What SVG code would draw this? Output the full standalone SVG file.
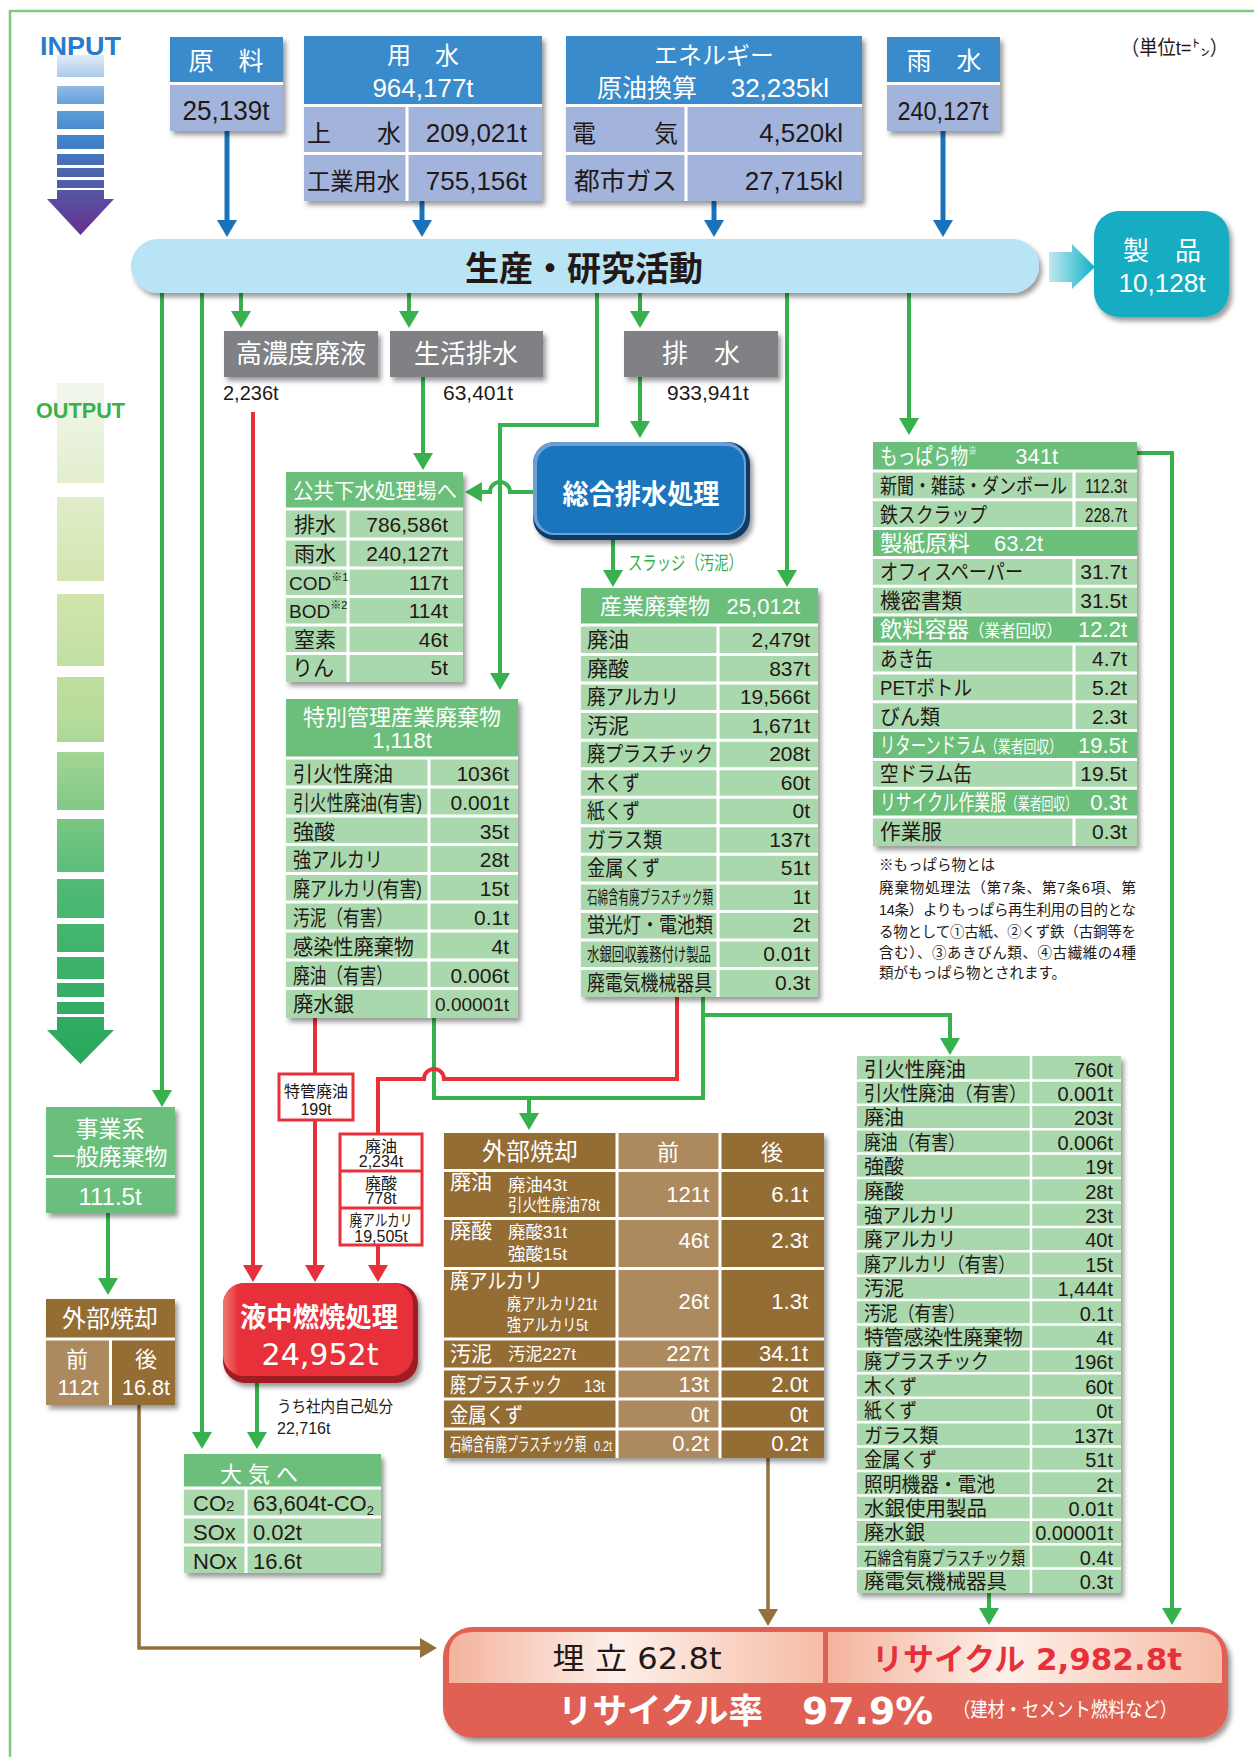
<svg xmlns="http://www.w3.org/2000/svg" width="1254" height="1757" viewBox="0 0 1254 1757">
<defs>
<style>
text{font-family:"Liberation Sans","Noto Sans CJK JP",sans-serif;}
.w{fill:#fff}
.k{fill:#231815}
.m{text-anchor:middle}
.e{text-anchor:end}
.gl{fill:none;stroke:#37b04e;stroke-width:4}
.rl{fill:none;stroke:#e8303a;stroke-width:4}
.bl{fill:none;stroke:#1a72bb;stroke-width:5}
.nl{fill:none;stroke:#94703a;stroke-width:3.5}
.hdB{fill:#3a8bcb}
.vB{fill:#a2b4dc}
.gH{fill:#6bbf7b}
.gR{fill:#aad8ad}
.br{fill:#946d35}
.brL{fill:#ad8a5e}
.gray{fill:#808184}
.sep{fill:none;stroke:#fff;stroke-width:3}
.sep2{fill:none;stroke:#fff;stroke-width:2.5}
.rb{fill:#fff;stroke:#e8303a;stroke-width:3}
.wd{font-family:"DejaVu Sans","Noto Sans CJK JP",sans-serif}
</style>
<linearGradient id="gin" x1="0" y1="55" x2="0" y2="235" gradientUnits="userSpaceOnUse">
<stop offset="0" stop-color="#e3ebf8"/><stop offset="0.25" stop-color="#6ea6dc"/><stop offset="0.45" stop-color="#3f86cc"/><stop offset="0.7" stop-color="#4f5fa8"/><stop offset="1" stop-color="#6a2f8f"/>
</linearGradient>
<linearGradient id="gout" x1="0" y1="383" x2="0" y2="1064" gradientUnits="userSpaceOnUse">
<stop offset="0" stop-color="#f2f7ec"/><stop offset="0.3" stop-color="#d2e5ad"/><stop offset="0.5" stop-color="#b5db9a"/><stop offset="0.75" stop-color="#4cb873"/><stop offset="1" stop-color="#27a85c"/>
</linearGradient>
<linearGradient id="gpa" x1="0" y1="0" x2="1" y2="0">
<stop offset="0" stop-color="#c2e8f0"/><stop offset="1" stop-color="#10b1c8"/>
</linearGradient>
<linearGradient id="gpk" x1="0" y1="0" x2="1" y2="0">
<stop offset="0" stop-color="#f4b39c"/><stop offset="0.45" stop-color="#fdf0ea"/><stop offset="1" stop-color="#f6bca6"/>
</linearGradient>
<linearGradient id="gred" x1="0" y1="0" x2="1" y2="0">
<stop offset="0" stop-color="#f07a72"/><stop offset="0.08" stop-color="#e8303a"/><stop offset="1" stop-color="#e8303a"/>
</linearGradient>
<filter id="sh" x="-10%" y="-10%" width="130%" height="135%"><feDropShadow dx="3" dy="4" stdDeviation="2.5" flood-color="#000" flood-opacity="0.4"/></filter>
<marker id="ag" viewBox="0 0 17 20" refX="7" refY="10" markerWidth="17" markerHeight="20" markerUnits="userSpaceOnUse" orient="auto"><path d="M0 0L17 10L0 20Z" fill="#37b04e"/></marker>
<marker id="ab" viewBox="0 0 17 20" refX="7" refY="10" markerWidth="17" markerHeight="20" markerUnits="userSpaceOnUse" orient="auto"><path d="M0 0L17 10L0 20Z" fill="#1a72bb"/></marker>
<marker id="ar" viewBox="0 0 17 20" refX="7" refY="10" markerWidth="17" markerHeight="20" markerUnits="userSpaceOnUse" orient="auto"><path d="M0 0L17 10L0 20Z" fill="#e8303a"/></marker>
<marker id="an" viewBox="0 0 17 20" refX="7" refY="10" markerWidth="17" markerHeight="20" markerUnits="userSpaceOnUse" orient="auto"><path d="M0 0L17 10L0 20Z" fill="#94703a"/></marker>
</defs>
<rect width="1254" height="1757" fill="#fff"/>
<path d="M10 1757V11H1254" fill="none" stroke="#7dcb83" stroke-width="2.5"/>

<g id="input-arrow">
<polygon points="57,55 104,55 104,199 114,199 80.5,235 47,199 57,199" fill="url(#gin)"/>
<g fill="#fff"><rect x="45" y="77" width="72" height="9"/><rect x="45" y="104" width="72" height="7"/><rect x="45" y="129" width="72" height="6"/><rect x="45" y="149" width="72" height="5"/><rect x="45" y="165" width="72" height="3"/><rect x="45" y="177" width="72" height="3"/><rect x="45" y="188" width="72" height="2"/></g>
<text x="40" y="55" font-size="25" font-weight="bold" fill="#2a7cc7" textLength="81" lengthAdjust="spacingAndGlyphs">INPUT</text>
</g>
<g id="output-arrow">
<polygon points="57,383 104,383 104,1030 114,1030 80.5,1064 47,1030 57,1030" fill="url(#gout)"/>
<g fill="#fff"><rect x="45" y="483" width="72" height="14"/><rect x="45" y="581" width="72" height="13"/><rect x="45" y="666" width="72" height="11"/><rect x="45" y="742" width="72" height="10"/><rect x="45" y="810" width="72" height="9"/><rect x="45" y="872" width="72" height="7"/><rect x="45" y="918" width="72" height="6"/><rect x="45" y="952" width="72" height="5"/><rect x="45" y="979" width="72" height="4"/><rect x="45" y="997" width="72" height="5"/><rect x="45" y="1014" width="72" height="3"/></g>
<text x="36" y="418" font-size="22" font-weight="bold" fill="#3cb04a" textLength="89" lengthAdjust="spacingAndGlyphs">OUTPUT</text>
</g>
<text id="unit" x="1121" y="55" font-size="20" class="k" textLength="107" lengthAdjust="spacingAndGlyphs">（単位t=㌧）</text>

<g id="connectors">
<path class="bl" marker-end="url(#ab)" d="M227 131V227"/>
<path class="bl" marker-end="url(#ab)" d="M422 201V227"/>
<path class="bl" marker-end="url(#ab)" d="M714 201V227"/>
<path class="bl" marker-end="url(#ab)" d="M943 131V227"/>
<path class="gl" marker-end="url(#ag)" d="M162 293V1097"/>
<path class="gl" marker-end="url(#ag)" d="M202 293V1439"/>
<path class="gl" marker-end="url(#ag)" d="M241 293V318"/>
<path class="gl" marker-end="url(#ag)" d="M409 293V318"/>
<path class="gl" marker-end="url(#ag)" d="M640 293V318"/>
<path class="gl" marker-end="url(#ag)" d="M597 293V425H500V680"/>
<path class="gl" marker-end="url(#ag)" d="M640 377V428"/>
<path class="gl" marker-end="url(#ag)" d="M787 293V577"/>
<path class="gl" marker-end="url(#ag)" d="M909 293V425"/>
<path class="gl" marker-end="url(#ag)" d="M423 377V460"/>
<path class="gl" marker-end="url(#ag)" d="M533 492H510A10 10 0 0 0 490 492H475"/>
<path class="gl" marker-end="url(#ag)" d="M613 540V577"/>
<path class="gl" marker-end="url(#ag)" d="M108 1213V1285"/>
<path class="gl" marker-end="url(#ag)" d="M257 1383V1439"/>
<path class="gl" d="M434 1018V1098H703V997"/>
<path class="gl" marker-end="url(#ag)" d="M703 1015H950V1045"/>
<path class="gl" marker-end="url(#ag)" d="M529 1098V1120"/>
<path class="gl" marker-end="url(#ag)" d="M989 1593V1615"/>
<path class="gl" marker-end="url(#ag)" d="M1137 453H1172V1615"/>
<path class="rl" marker-end="url(#ar)" d="M253 412V1272"/>
<path class="rl" d="M315 1018V1073"/>
<path class="rl" marker-end="url(#ar)" d="M315 1121V1272"/>
<path class="rl" d="M677 997V1079H444A10 10 0 0 0 424 1079H378V1133"/>
<path class="rl" marker-end="url(#ar)" d="M378 1246V1272"/>
<path class="nl" marker-end="url(#an)" d="M139 1405V1648H427"/>
<path class="nl" marker-end="url(#an)" d="M768 1458V1616"/>
<text x="628" y="570" font-size="19" fill="#37b04e" textLength="115" lengthAdjust="spacingAndGlyphs">スラッジ（汚泥）</text>
<text x="277" y="1412" font-size="16" class="k" textLength="116" lengthAdjust="spacingAndGlyphs">うち社内自己処分</text>
<text x="277" y="1434" font-size="16" class="k">22,716t</text>
</g>

<g id="n-genryo">
<rect x="170" y="37" width="113" height="94" class="vB" filter="url(#sh)"/>
<rect x="170" y="37" width="113" height="45" class="hdB"/>
<rect x="170" y="82" width="113" height="3" fill="#fff"/>
<text x="226" y="70" class="w m" font-size="25">原　料</text>
<text x="226" y="120" class="k m" font-size="27" textLength="87" lengthAdjust="spacingAndGlyphs">25,139t</text>
</g>
<g id="n-yousui">
<rect x="304" y="36" width="238" height="165" class="vB" filter="url(#sh)"/>
<rect x="304" y="36" width="238" height="68" class="hdB"/>
<path d="M304 105.5H542M304 153.5H542M407 105V201" class="sep"/>
<text x="423" y="64" class="w m" font-size="24">用　水</text>
<text x="423" y="97" class="w m" font-size="26">964,177t</text>
<text x="307" y="142" font-size="24" class="k">上</text>
<text x="401" y="142" font-size="24" class="k e">水</text>
<text x="527" y="142" class="k e" font-size="26">209,021t</text>
<text x="307" y="190" font-size="24" class="k" textLength="93" lengthAdjust="spacingAndGlyphs">工業用水</text>
<text x="527" y="190" class="k e" font-size="26">755,156t</text>
</g>
<g id="n-energy">
<rect x="566" y="36" width="296" height="165" class="vB" filter="url(#sh)"/>
<rect x="566" y="36" width="296" height="68" class="hdB"/>
<path d="M566 105.5H862M566 153.5H862M686 105V201" class="sep"/>
<text x="714" y="64" class="w m" font-size="24">エネルギー</text>
<text x="597" y="97" class="w" font-size="25">原油換算</text>
<text x="829" y="97" class="w e" font-size="26">32,235kl</text>
<text x="572" y="142" class="k" font-size="24">電</text>
<text x="678" y="142" class="k e" font-size="24">気</text>
<text x="843" y="142" class="k e" font-size="26">4,520kl</text>
<text x="574" y="190" class="k" font-size="25" textLength="103" lengthAdjust="spacingAndGlyphs">都市ガス</text>
<text x="843" y="190" class="k e" font-size="26">27,715kl</text>
</g>
<g id="n-usui">
<rect x="887" y="37" width="113" height="94" class="vB" filter="url(#sh)"/>
<rect x="887" y="37" width="113" height="45" class="hdB"/>
<rect x="887" y="82" width="113" height="3" fill="#fff"/>
<text x="944" y="70" class="w m" font-size="25">雨　水</text>
<text x="943" y="120" class="k m" font-size="26" textLength="91" lengthAdjust="spacingAndGlyphs">240,127t</text>
</g>

<g id="n-main">
<rect x="131" y="239" width="908" height="54" rx="27" fill="#b8e4f6" filter="url(#sh)"/>
<text x="584" y="281" class="k m" font-size="34" font-weight="bold" textLength="238" lengthAdjust="spacingAndGlyphs">生産・研究活動</text>
</g>
<g id="n-product">
<polygon points="1049,252 1072,252 1072,244 1095,267 1072,289 1072,282 1049,282" fill="url(#gpa)"/>
<rect x="1094" y="211" width="135" height="106" rx="25" fill="#14adc3" filter="url(#sh)"/>
<text x="1162" y="260" class="w m" font-size="26">製　品</text>
<text x="1162" y="292" class="w m" font-size="26" textLength="87" lengthAdjust="spacingAndGlyphs">10,128t</text>
</g>

<g id="n-kounoudo">
<rect x="224" y="331" width="154" height="46" class="gray" filter="url(#sh)"/>
<text x="301" y="363" class="w m" font-size="26">高濃度廃液</text>
<text x="223" y="400" class="k" font-size="20">2,236t</text>
</g>
<g id="n-seikatsu">
<rect x="390" y="331" width="153" height="46" class="gray" filter="url(#sh)"/>
<text x="466" y="363" class="w m" font-size="26">生活排水</text>
<text x="443" y="400" class="k" font-size="21">63,401t</text>
</g>
<g id="n-haisui">
<rect x="624" y="331" width="154" height="46" class="gray" filter="url(#sh)"/>
<text x="701" y="363" class="w m" font-size="26">排　水</text>
<text x="667" y="400" class="k" font-size="21">933,941t</text>
</g>

<g id="n-sougou">
<rect x="533" y="442" width="217" height="98" rx="22" fill="#0f3b68" filter="url(#sh)"/>
<rect x="533" y="442" width="213" height="93" rx="21" fill="#6d9fd4"/>
<rect x="537" y="446" width="207" height="87" rx="18" fill="#1b75bc"/>
<text x="641" y="504" class="w m" font-size="27" font-weight="bold" textLength="157" lengthAdjust="spacingAndGlyphs">総合排水処理</text>
</g>

<g id="n-koukyou">
<rect x="286" y="472" width="177" height="210" class="gR" filter="url(#sh)"/>
<rect x="286" y="472" width="177" height="36" class="gH"/>
<path d="M286 509H463M286 539H463M286 568H463M286 596.5H463M286 625H463M286 653.5H463M348 509V682" class="sep"/>
<text x="293" y="498" class="w" font-size="21" textLength="164" lengthAdjust="spacingAndGlyphs">公共下水処理場へ</text>
<text x="315" y="532" class="k m" font-size="21">排水</text><text x="448" y="532" class="k e" font-size="21">786,586t</text>
<text x="315" y="561" class="k m" font-size="21">雨水</text><text x="448" y="561" class="k e" font-size="21">240,127t</text>
<text x="289" y="590" class="k" font-size="19">COD<tspan font-size="11" dy="-9">※1</tspan></text><text x="448" y="590" class="k e" font-size="21">117t</text>
<text x="289" y="618" class="k" font-size="19">BOD<tspan font-size="11" dy="-9">※2</tspan></text><text x="448" y="618" class="k e" font-size="21">114t</text>
<text x="315" y="647" class="k m" font-size="21">窒素</text><text x="448" y="647" class="k e" font-size="21">46t</text>
<text x="313" y="675" class="k m" font-size="21">りん</text><text x="448" y="675" class="k e" font-size="21">5t</text>
</g>

<g id="n-tokkan">
<rect x="286" y="699" width="232" height="319" class="gR" filter="url(#sh)"/>
<rect x="286" y="699" width="232" height="58" class="gH"/>
<path d="M286 758H518M286 787H518M286 816H518M286 844.5H518M286 873.5H518M286 902H518M286 931H518M286 960H518M286 988.5H518M429 758V1018" class="sep"/>
<text x="402" y="725" class="w m" font-size="22">特別管理産業廃棄物</text>
<text x="402" y="748" class="w m" font-size="22">1,118t</text>
<text x="293" y="781" class="k" font-size="21" textLength="100" lengthAdjust="spacingAndGlyphs">引火性廃油</text><text x="509" y="781" class="k e" font-size="21">1036t</text>
<text x="293" y="810" class="k" font-size="21" textLength="129" lengthAdjust="spacingAndGlyphs">引火性廃油(有害)</text><text x="509" y="810" class="k e" font-size="21">0.001t</text>
<text x="293" y="839" class="k" font-size="21">強酸</text><text x="509" y="839" class="k e" font-size="21">35t</text>
<text x="293" y="867" class="k" font-size="21" textLength="90" lengthAdjust="spacingAndGlyphs">強アルカリ</text><text x="509" y="867" class="k e" font-size="21">28t</text>
<text x="293" y="896" class="k" font-size="21" textLength="129" lengthAdjust="spacingAndGlyphs">廃アルカリ(有害)</text><text x="509" y="896" class="k e" font-size="21">15t</text>
<text x="293" y="925" class="k" font-size="21" textLength="100" lengthAdjust="spacingAndGlyphs">汚泥（有害）</text><text x="509" y="925" class="k e" font-size="21">0.1t</text>
<text x="293" y="954" class="k" font-size="21" textLength="121" lengthAdjust="spacingAndGlyphs">感染性廃棄物</text><text x="509" y="954" class="k e" font-size="21">4t</text>
<text x="293" y="983" class="k" font-size="21" textLength="100" lengthAdjust="spacingAndGlyphs">廃油（有害）</text><text x="509" y="983" class="k e" font-size="21">0.006t</text>
<text x="293" y="1011" class="k" font-size="21" textLength="61" lengthAdjust="spacingAndGlyphs">廃水銀</text><text x="509" y="1011" class="k e" font-size="19">0.00001t</text>
</g>

<g id="n-sangyou">
<rect x="581" y="588" width="237" height="409" class="gR" filter="url(#sh)"/>
<rect x="581" y="588" width="237" height="36" class="gH"/>
<path d="M581 625H818M581 654.5H818M581 683.1H818M581 711.6H818M581 740.2H818M581 768.7H818M581 797.2H818M581 825.8H818M581 854.3H818M581 882.9H818M581 911.4H818M581 939.9H818M581 968.5H818M718 625V997" class="sep"/>
<text x="600" y="614" class="w" font-size="22">産業廃棄物</text><text x="800" y="614" class="w e" font-size="22">25,012t</text>
<text x="587" y="647" class="k" font-size="21">廃油</text><text x="810" y="647" class="k e" font-size="21">2,479t</text>
<text x="587" y="675.5" class="k" font-size="21">廃酸</text><text x="810" y="675.5" class="k e" font-size="21">837t</text>
<text x="587" y="704" class="k" font-size="21" textLength="92" lengthAdjust="spacingAndGlyphs">廃アルカリ</text><text x="810" y="704" class="k e" font-size="21">19,566t</text>
<text x="587" y="732.6" class="k" font-size="21">汚泥</text><text x="810" y="732.6" class="k e" font-size="21">1,671t</text>
<text x="587" y="761" class="k" font-size="21" textLength="126" lengthAdjust="spacingAndGlyphs">廃プラスチック</text><text x="810" y="761" class="k e" font-size="21">208t</text>
<text x="587" y="789.7" class="k" font-size="21" textLength="53" lengthAdjust="spacingAndGlyphs">木くず</text><text x="810" y="789.7" class="k e" font-size="21">60t</text>
<text x="587" y="818.2" class="k" font-size="21" textLength="53" lengthAdjust="spacingAndGlyphs">紙くず</text><text x="810" y="818.2" class="k e" font-size="21">0t</text>
<text x="587" y="846.8" class="k" font-size="21" textLength="75" lengthAdjust="spacingAndGlyphs">ガラス類</text><text x="810" y="846.8" class="k e" font-size="21">137t</text>
<text x="587" y="875.3" class="k" font-size="21" textLength="73" lengthAdjust="spacingAndGlyphs">金属くず</text><text x="810" y="875.3" class="k e" font-size="21">51t</text>
<text x="587" y="903.9" class="k" font-size="18" textLength="126" lengthAdjust="spacingAndGlyphs">石綿含有廃プラスチック類</text><text x="810" y="903.9" class="k e" font-size="21">1t</text>
<text x="587" y="932.4" class="k" font-size="21" textLength="126" lengthAdjust="spacingAndGlyphs">蛍光灯・電池類</text><text x="810" y="932.4" class="k e" font-size="21">2t</text>
<text x="587" y="961" class="k" font-size="18" textLength="124" lengthAdjust="spacingAndGlyphs">水銀回収義務付け製品</text><text x="810" y="961" class="k e" font-size="21">0.01t</text>
<text x="587" y="989.5" class="k" font-size="21" textLength="125" lengthAdjust="spacingAndGlyphs">廃電気機械器具</text><text x="810" y="989.5" class="k e" font-size="21">0.3t</text>
</g>

<g id="n-moppara">
<rect x="873" y="442" width="264" height="404" class="gR" filter="url(#sh)"/>
<g class="gH"><rect x="873" y="442" width="264" height="28.9"/><rect x="873" y="528.6" width="264" height="28.8"/><rect x="873" y="615.1" width="264" height="28.9"/><rect x="873" y="730.6" width="264" height="28.8"/><rect x="873" y="788.3" width="264" height="28.8"/></g>
<path d="M873 470.9H1137M873 499.7H1137M873 528.6H1137M873 557.4H1137M873 586.3H1137M873 615.1H1137M873 644H1137M873 672.9H1137M873 701.7H1137M873 730.6H1137M873 759.4H1137M873 788.3H1137M873 817.1H1137M1074 470.9V528.6M1074 557.4V615.1M1074 644V730.6M1074 759.4V788.3M1074 817.1V846" class="sep"/>
<text x="880" y="464" class="w" font-size="22" textLength="97" lengthAdjust="spacingAndGlyphs">もっぱら物<tspan font-size="11" dy="-9">※</tspan></text><text x="1058" y="464" class="w e" font-size="22">341t</text>
<text x="880" y="492.9" class="k" font-size="21" textLength="187" lengthAdjust="spacingAndGlyphs">新聞・雑誌・ダンボール</text><text x="1127" y="492.9" class="k e" font-size="20" textLength="42" lengthAdjust="spacingAndGlyphs">112.3t</text>
<text x="880" y="521.7" class="k" font-size="21" textLength="107" lengthAdjust="spacingAndGlyphs">鉄スクラップ</text><text x="1127" y="521.7" class="k e" font-size="20" textLength="42" lengthAdjust="spacingAndGlyphs">228.7t</text>
<text x="880" y="550.6" class="w" font-size="22" textLength="90" lengthAdjust="spacingAndGlyphs">製紙原料</text><text x="1043" y="550.6" class="w e" font-size="22">63.2t</text>
<text x="880" y="579.4" class="k" font-size="21" textLength="143" lengthAdjust="spacingAndGlyphs">オフィスペーパー</text><text x="1127" y="579.4" class="k e" font-size="21">31.7t</text>
<text x="880" y="608.3" class="k" font-size="21" textLength="82" lengthAdjust="spacingAndGlyphs">機密書類</text><text x="1127" y="608.3" class="k e" font-size="21">31.5t</text>
<text x="880" y="637.1" class="w" font-size="22" textLength="89" lengthAdjust="spacingAndGlyphs">飲料容器</text><text x="969" y="637.1" class="w" font-size="17" textLength="93" lengthAdjust="spacingAndGlyphs">（業者回収）</text><text x="1127" y="637.1" class="w e" font-size="22">12.2t</text>
<text x="880" y="666" class="k" font-size="21" textLength="53" lengthAdjust="spacingAndGlyphs">あき缶</text><text x="1127" y="666" class="k e" font-size="21">4.7t</text>
<text x="880" y="694.9" class="k" font-size="21" textLength="92" lengthAdjust="spacingAndGlyphs">PETボトル</text><text x="1127" y="694.9" class="k e" font-size="21">5.2t</text>
<text x="880" y="723.7" class="k" font-size="21" textLength="60" lengthAdjust="spacingAndGlyphs">びん類</text><text x="1127" y="723.7" class="k e" font-size="21">2.3t</text>
<text x="880" y="752.6" class="w" font-size="22" textLength="106" lengthAdjust="spacingAndGlyphs">リターンドラム</text><text x="985" y="752.6" class="w" font-size="17" textLength="77" lengthAdjust="spacingAndGlyphs">（業者回収）</text><text x="1127" y="752.6" class="w e" font-size="22">19.5t</text>
<text x="880" y="781.4" class="k" font-size="21" textLength="92" lengthAdjust="spacingAndGlyphs">空ドラム缶</text><text x="1127" y="781.4" class="k e" font-size="21">19.5t</text>
<text x="880" y="810.3" class="w" font-size="22" textLength="126" lengthAdjust="spacingAndGlyphs">リサイクル作業服</text><text x="1006" y="810.3" class="w" font-size="17" textLength="71" lengthAdjust="spacingAndGlyphs">（業者回収）</text><text x="1127" y="810.3" class="w e" font-size="22">0.3t</text>
<text x="880" y="839.1" class="k" font-size="21" textLength="62" lengthAdjust="spacingAndGlyphs">作業服</text><text x="1127" y="839.1" class="k e" font-size="21">0.3t</text>
</g>

<g id="footnote" class="k" font-size="14.5">
<text x="879" y="870">※もっぱら物とは</text>
<text x="879" y="893" textLength="257" lengthAdjust="spacing">廃棄物処理法（第7条、第7条6項、第</text>
<text x="879" y="915" textLength="257" lengthAdjust="spacing">14条）よりもっぱら再生利用の目的とな</text>
<text x="879" y="937" textLength="257" lengthAdjust="spacing">る物として①古紙、②くず鉄（古銅等を</text>
<text x="879" y="958" textLength="257" lengthAdjust="spacing">含む）、③あきびん類、④古繊維の4種</text>
<text x="879" y="978">類がもっぱら物とされます。</text>
</g>

<g id="n-recycle-list">
<rect x="857" y="1056" width="264" height="537" class="gR" filter="url(#sh)"/>
<path d="M857 1080.4H1121M857 1104.8H1121M857 1129.2H1121M857 1153.6H1121M857 1178.1H1121M857 1202.5H1121M857 1226.9H1121M857 1251.3H1121M857 1275.7H1121M857 1300.1H1121M857 1324.5H1121M857 1348.9H1121M857 1373.3H1121M857 1397.7H1121M857 1422.2H1121M857 1446.6H1121M857 1471H1121M857 1495.4H1121M857 1519.8H1121M857 1544.2H1121M857 1568.6H1121M1031 1056V1593" class="sep2"/>
<g class="k" font-size="20">
<text x="864" y="1076.5" textLength="102" lengthAdjust="spacingAndGlyphs">引火性廃油</text><text x="1113" y="1076.5" class="e">760t</text>
<text x="864" y="1100.9" textLength="163" lengthAdjust="spacingAndGlyphs">引火性廃油（有害）</text><text x="1113" y="1100.9" class="e">0.001t</text>
<text x="864" y="1125.3">廃油</text><text x="1113" y="1125.3" class="e">203t</text>
<text x="864" y="1149.7" textLength="101" lengthAdjust="spacingAndGlyphs">廃油（有害）</text><text x="1113" y="1149.7" class="e">0.006t</text>
<text x="864" y="1174.1">強酸</text><text x="1113" y="1174.1" class="e">19t</text>
<text x="864" y="1198.6">廃酸</text><text x="1113" y="1198.6" class="e">28t</text>
<text x="864" y="1223" textLength="92" lengthAdjust="spacingAndGlyphs">強アルカリ</text><text x="1113" y="1223" class="e">23t</text>
<text x="864" y="1247.4" textLength="92" lengthAdjust="spacingAndGlyphs">廃アルカリ</text><text x="1113" y="1247.4" class="e">40t</text>
<text x="864" y="1271.8" textLength="151" lengthAdjust="spacingAndGlyphs">廃アルカリ（有害）</text><text x="1113" y="1271.8" class="e">15t</text>
<text x="864" y="1296.2">汚泥</text><text x="1113" y="1296.2" class="e">1,444t</text>
<text x="864" y="1320.6" textLength="101" lengthAdjust="spacingAndGlyphs">汚泥（有害）</text><text x="1113" y="1320.6" class="e">0.1t</text>
<text x="864" y="1345" textLength="159" lengthAdjust="spacingAndGlyphs">特管感染性廃棄物</text><text x="1113" y="1345" class="e">4t</text>
<text x="864" y="1369.4" textLength="125" lengthAdjust="spacingAndGlyphs">廃プラスチック</text><text x="1113" y="1369.4" class="e">196t</text>
<text x="864" y="1393.8" textLength="53" lengthAdjust="spacingAndGlyphs">木くず</text><text x="1113" y="1393.8" class="e">60t</text>
<text x="864" y="1418.2" textLength="53" lengthAdjust="spacingAndGlyphs">紙くず</text><text x="1113" y="1418.2" class="e">0t</text>
<text x="864" y="1442.7" textLength="74" lengthAdjust="spacingAndGlyphs">ガラス類</text><text x="1113" y="1442.7" class="e">137t</text>
<text x="864" y="1467.1" textLength="73" lengthAdjust="spacingAndGlyphs">金属くず</text><text x="1113" y="1467.1" class="e">51t</text>
<text x="864" y="1491.5" textLength="131" lengthAdjust="spacingAndGlyphs">照明機器・電池</text><text x="1113" y="1491.5" class="e">2t</text>
<text x="864" y="1515.9" textLength="123" lengthAdjust="spacingAndGlyphs">水銀使用製品</text><text x="1113" y="1515.9" class="e">0.01t</text>
<text x="864" y="1540.3" textLength="61" lengthAdjust="spacingAndGlyphs">廃水銀</text><text x="1113" y="1540.3" class="e">0.00001t</text>
<text x="864" y="1564.7" font-size="18" textLength="161" lengthAdjust="spacingAndGlyphs">石綿含有廃プラスチック類</text><text x="1113" y="1564.7" class="e">0.4t</text>
<text x="864" y="1589.1" textLength="143" lengthAdjust="spacingAndGlyphs">廃電気機械器具</text><text x="1113" y="1589.1" class="e">0.3t</text>
</g>
</g>

<g id="n-gaibu">
<rect x="444" y="1133" width="380" height="325" class="br" filter="url(#sh)"/>
<rect x="617" y="1133" width="103" height="325" class="brL"/>
<path d="M444 1170.5H824M444 1218.5H824M444 1268.5H824M444 1339H824M444 1369H824M444 1399H824M444 1429H824M617 1133V1458M720 1133V1458" class="sep"/>
<g class="w">
<text x="530" y="1160" class="m" font-size="24">外部焼却</text>
<text x="668" y="1160" class="m" font-size="22">前</text>
<text x="772" y="1160" class="m" font-size="22">後</text>
<text x="450" y="1189" font-size="21">廃油</text>
<text x="508" y="1191" font-size="17" textLength="59" lengthAdjust="spacingAndGlyphs">廃油43t</text>
<text x="508" y="1211" font-size="17" textLength="92" lengthAdjust="spacingAndGlyphs">引火性廃油78t</text>
<text x="709" y="1202" class="e" font-size="22">121t</text><text x="808" y="1202" class="e" font-size="22">6.1t</text>
<text x="450" y="1238" font-size="21">廃酸</text>
<text x="508" y="1238" font-size="17" textLength="59" lengthAdjust="spacingAndGlyphs">廃酸31t</text>
<text x="508" y="1260" font-size="17" textLength="59" lengthAdjust="spacingAndGlyphs">強酸15t</text>
<text x="709" y="1248" class="e" font-size="22">46t</text><text x="808" y="1248" class="e" font-size="22">2.3t</text>
<text x="450" y="1288" font-size="21" textLength="93" lengthAdjust="spacingAndGlyphs">廃アルカリ</text>
<text x="507" y="1310" font-size="17" textLength="90" lengthAdjust="spacingAndGlyphs">廃アルカリ21t</text>
<text x="507" y="1331" font-size="17" textLength="81" lengthAdjust="spacingAndGlyphs">強アルカリ5t</text>
<text x="709" y="1309" class="e" font-size="22">26t</text><text x="808" y="1309" class="e" font-size="22">1.3t</text>
<text x="450" y="1361" font-size="21">汚泥</text>
<text x="508" y="1360" font-size="17" textLength="68" lengthAdjust="spacingAndGlyphs">汚泥227t</text>
<text x="709" y="1361" class="e" font-size="22">227t</text><text x="808" y="1361" class="e" font-size="22">34.1t</text>
<text x="450" y="1392" font-size="21" textLength="112" lengthAdjust="spacingAndGlyphs">廃プラスチック</text>
<text x="584" y="1392" font-size="16" textLength="21" lengthAdjust="spacingAndGlyphs">13t</text>
<text x="709" y="1392" class="e" font-size="22">13t</text><text x="808" y="1392" class="e" font-size="22">2.0t</text>
<text x="450" y="1422" font-size="21" textLength="73" lengthAdjust="spacingAndGlyphs">金属くず</text>
<text x="709" y="1422" class="e" font-size="22">0t</text><text x="808" y="1422" class="e" font-size="22">0t</text>
<text x="450" y="1451" font-size="18" textLength="136" lengthAdjust="spacingAndGlyphs">石綿含有廃プラスチック類</text>
<text x="594" y="1451" font-size="14" textLength="18" lengthAdjust="spacingAndGlyphs">0.2t</text>
<text x="709" y="1451" class="e" font-size="22">0.2t</text><text x="808" y="1451" class="e" font-size="22">0.2t</text>
</g>
</g>

<g id="n-jigyou">
<rect x="46" y="1107" width="129" height="106" class="gH" filter="url(#sh)"/>
<rect x="46" y="1175" width="129" height="3" fill="#fff"/>
<text x="110" y="1137" class="w m" font-size="23">事業系</text>
<text x="110" y="1165" class="w m" font-size="23">一般廃棄物</text>
<text x="110" y="1205" class="w m" font-size="24">111.5t</text>
</g>
<g id="n-gaibu-small">
<rect x="46" y="1299" width="129" height="106" class="br" filter="url(#sh)"/>
<rect x="46" y="1340" width="64" height="65" class="brL"/>
<path d="M46 1339H175M110.5 1339V1405" class="sep"/>
<text x="110" y="1327" class="w m" font-size="24">外部焼却</text>
<text x="77" y="1367" class="w m" font-size="22">前</text>
<text x="146" y="1367" class="w m" font-size="22">後</text>
<text x="78" y="1395" class="w m" font-size="22">112t</text>
<text x="146" y="1395" class="w m" font-size="22" textLength="48" lengthAdjust="spacingAndGlyphs">16.8t</text>
</g>

<g id="n-tokkan-oil">
<rect x="279" y="1074" width="74" height="46" class="rb"/>
<text x="316" y="1097" class="k m" font-size="16">特管廃油</text>
<text x="316" y="1115" class="k m" font-size="16">199t</text>
</g>
<g id="n-red-cells">
<rect x="340" y="1134" width="82" height="111" class="rb"/>
<path d="M340 1171H422M340 1208H422" fill="none" stroke="#e8303a" stroke-width="3"/>
<text x="381" y="1152" class="k m" font-size="16">廃油</text>
<text x="381" y="1167" class="k m" font-size="16">2,234t</text>
<text x="381" y="1189" class="k m" font-size="16">廃酸</text>
<text x="381" y="1204" class="k m" font-size="16">778t</text>
<text x="381" y="1226" class="k m" font-size="16" textLength="63" lengthAdjust="spacingAndGlyphs">廃アルカリ</text>
<text x="381" y="1242" class="k m" font-size="16">19,505t</text>
</g>

<g id="n-ekichu">
<rect x="223" y="1283" width="195" height="100" rx="22" fill="#9e1b22" filter="url(#sh)"/>
<rect x="223" y="1283" width="190" height="93" rx="21" fill="url(#gred)"/>
<text x="319" y="1327" class="w m" font-size="27" font-weight="bold" textLength="158" lengthAdjust="spacingAndGlyphs">液中燃焼処理</text>
<text x="320" y="1365" class="w m wd" font-size="30" textLength="117" lengthAdjust="spacingAndGlyphs">24,952t</text>
</g>

<g id="n-taiki">
<rect x="184" y="1454" width="197" height="119" class="gR" filter="url(#sh)"/>
<rect x="184" y="1454" width="197" height="33" class="gH"/>
<path d="M184 1488H381M184 1517H381M184 1545H381M246 1488V1573" class="sep"/>
<text x="262" y="1482" class="w m" font-size="22" letter-spacing="6">大気へ</text>
<text x="193" y="1511" class="k" font-size="22">CO<tspan font-size="15">2</tspan></text>
<text x="253" y="1511" class="k" font-size="22">63,604t-CO<tspan font-size="13" dy="4">2</tspan></text>
<text x="193" y="1540" class="k" font-size="22">SOx</text>
<text x="253" y="1540" class="k" font-size="22">0.02t</text>
<text x="193" y="1569" class="k" font-size="22">NOx</text>
<text x="253" y="1569" class="k" font-size="22">16.6t</text>
</g>

<g id="n-result">
<rect x="443" y="1627" width="785" height="111" rx="30" fill="#e06152" filter="url(#sh)"/>
<path d="M449 1683V1656Q449 1632 473 1632H823V1683Z" fill="url(#gpk)"/>
<path d="M828 1632H1198Q1222 1632 1222 1656V1683H828Z" fill="url(#gpk)"/>
<text x="637" y="1669" class="k m wd" font-size="30" textLength="169" lengthAdjust="spacingAndGlyphs">埋 立 62.8t</text>
<text x="1027" y="1670" class="m wd" font-size="31" font-weight="bold" fill="#e8303a" textLength="310" lengthAdjust="spacingAndGlyphs">リサイクル 2,982.8t</text>
<text x="558" y="1723" class="w" font-size="34" font-weight="bold" textLength="205" lengthAdjust="spacingAndGlyphs">リサイクル率</text>
<text x="802" y="1724" class="w wd" font-size="38" font-weight="bold" textLength="131" lengthAdjust="spacingAndGlyphs">97.9%</text>
<text x="953" y="1717" class="w" font-size="20" textLength="224" lengthAdjust="spacingAndGlyphs">（建材・セメント燃料など）</text>
</g>
</svg>
